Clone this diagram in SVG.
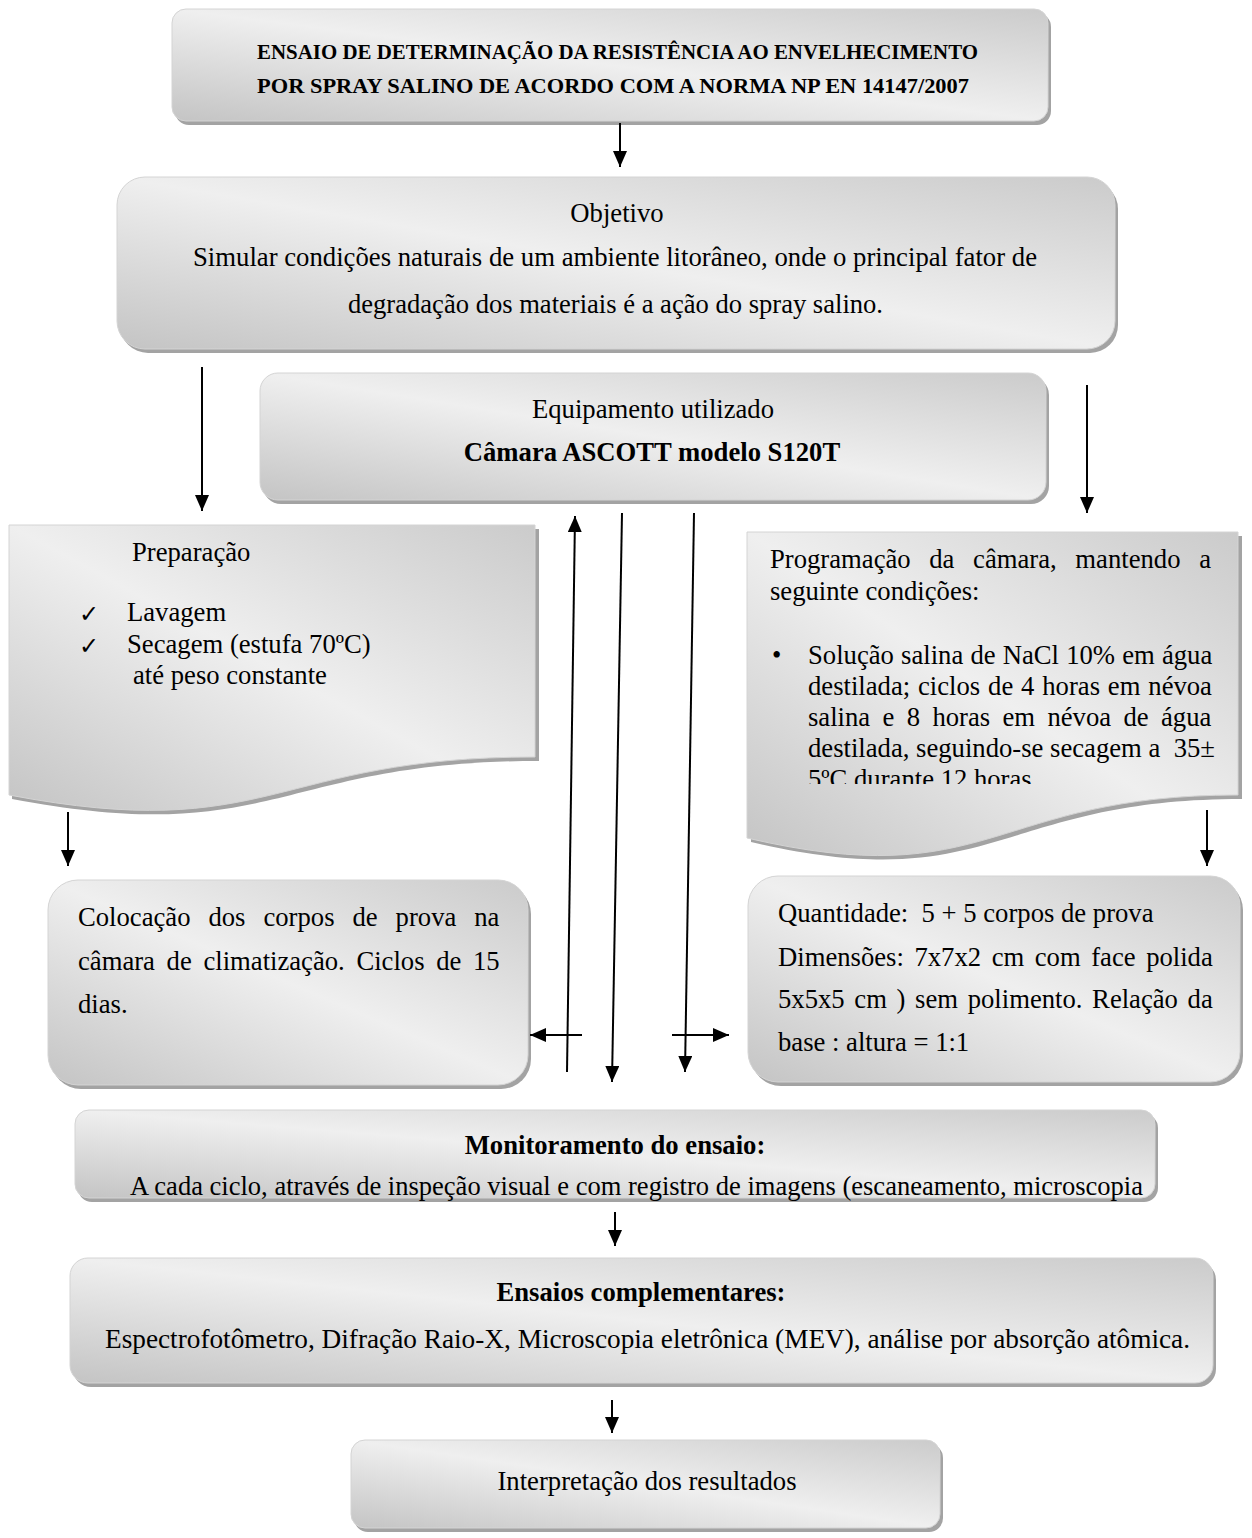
<svg xmlns="http://www.w3.org/2000/svg" width="1252" height="1538" viewBox="0 0 1252 1538">
<defs>
<linearGradient id="g" x1="0" y1="1" x2="1" y2="0">
<stop offset="0" stop-color="#c4c4c4"/>
<stop offset="0.5" stop-color="#efefef"/>
<stop offset="1" stop-color="#cbcbcb"/>
</linearGradient>
<marker id="ah" viewBox="0 0 16 14" refX="16" refY="7" markerWidth="8" markerHeight="7" orient="auto" markerUnits="strokeWidth">
<path d="M0,0 L16,7 L0,14 Z" fill="#000"/>
</marker>
<clipPath id="clipProg"><rect x="740" y="520" width="510" height="264"/></clipPath>
</defs>
<style>
.box{fill:url(#g);stroke:#d4d4d4;stroke-width:1}
.sh{fill:#a3a3a3}
.t{font-family:"Liberation Serif","Times New Roman",serif;font-size:26.67px;fill:#000}
.b{font-weight:bold}
.ttl{font-family:"Liberation Serif","Times New Roman",serif;font-size:20.5px;font-weight:bold;fill:#000}
.c{text-anchor:middle}
.ck{font-family:"DejaVu Sans",sans-serif;font-size:24px;fill:#000}
.ln{stroke:#000;stroke-width:2;fill:none;marker-end:url(#ah)}
</style>
<rect width="1252" height="1538" fill="#fff"/>

<g id="title">
<rect class="sh" x="175" y="13" width="876" height="112" rx="14"/>
<rect class="box" x="172" y="9" width="876" height="112" rx="14"/>
<text class="ttl" x="257" y="59" textLength="721" lengthAdjust="spacingAndGlyphs">ENSAIO DE DETERMINAÇÃO DA RESISTÊNCIA AO ENVELHECIMENTO</text>
<text class="ttl" x="257" y="93" textLength="712" lengthAdjust="spacingAndGlyphs">POR SPRAY SALINO DE ACORDO COM A NORMA NP EN 14147/2007</text>
</g>

<g id="objetivo">
<rect class="sh" x="120" y="181" width="998" height="172" rx="28"/>
<rect class="box" x="117" y="177" width="998" height="172" rx="28"/>
<text class="t c" x="617" y="222">Objetivo</text>
<text class="t" x="193" y="266" textLength="844" lengthAdjust="spacingAndGlyphs">Simular condições naturais de um ambiente litorâneo, onde o principal fator de</text>
<text class="t" x="348" y="313" textLength="535" lengthAdjust="spacingAndGlyphs">degradação dos materiais é a ação do spray salino.</text>
</g>

<g id="equipamento">
<rect class="sh" x="263" y="377" width="786" height="127" rx="18"/>
<rect class="box" x="260" y="373" width="786" height="127" rx="18"/>
<text class="t c" x="653" y="418">Equipamento utilizado</text>
<text class="t b c" x="652" y="461">Câmara ASCOTT modelo S120T</text>
</g>

<g id="preparacao">
<path class="sh" d="M12,529 H539 V761 C276,761 276,849 12,799 Z"/>
<path class="box" d="M9,525 H535 V757 C272,757 272,845 9,795 Z"/>
<text class="t" x="132" y="561">Preparação</text>
<text class="ck" x="79" y="622">✓</text>
<text class="ck" x="79" y="654">✓</text>
<text class="t" x="127" y="621">Lavagem</text>
<text class="t" x="127" y="653">Secagem (estufa 70ºC)</text>
<text class="t" x="133" y="684">até peso constante</text>
</g>

<g id="programacao">
<path class="sh" d="M751,536 H1242 V799 C995,799 995,899 751,842 Z"/>
<path class="box" d="M747,532 H1238 V795 C991,795 991,895 747,838 Z"/>
<text class="t" x="770" y="568" word-spacing="12">Programação da câmara, mantendo a</text>
<text class="t" x="770" y="600">seguinte condições:</text>
<text class="t" x="772" y="664">•</text>
<g clip-path="url(#clipProg)">
<text class="t" x="808" y="664" word-spacing="0.5">Solução salina de NaCl 10% em água</text>
<text class="t" x="808" y="695" word-spacing="1.2">destilada; ciclos de 4 horas em névoa</text>
<text class="t" x="808" y="726" word-spacing="5.7">salina e 8 horas em névoa de água</text>
<text class="t" x="808" y="757" xml:space="preserve">destilada, seguindo-se secagem a  35±</text>
<text class="t" x="808" y="788">5ºC durante 12 horas.</text>
</g>
</g>

<g id="colocacao">
<rect class="sh" x="51" y="884" width="480" height="205" rx="30"/>
<rect class="box" x="48" y="880" width="480" height="205" rx="30"/>
<text class="t" x="78" y="926" word-spacing="11.3">Colocação dos corpos de prova na</text>
<text class="t" x="78" y="970" word-spacing="5">câmara de climatização. Ciclos de 15</text>
<text class="t" x="78" y="1013">dias.</text>
</g>

<g id="quantidade">
<rect class="sh" x="751" y="880" width="492" height="206" rx="30"/>
<rect class="box" x="748" y="876" width="492" height="206" rx="30"/>
<text class="t" x="778" y="922" xml:space="preserve">Quantidade:  5 + 5 corpos de prova</text>
<text class="t" x="778" y="966" word-spacing="3.9">Dimensões: 7x7x2 cm com face polida</text>
<text class="t" x="778" y="1008" word-spacing="3">5x5x5 cm ) sem polimento. Relação da</text>
<text class="t" x="778" y="1051">base : altura = 1:1</text>
</g>

<g id="monitoramento">
<rect class="sh" x="78" y="1114" width="1080" height="88" rx="14"/>
<rect class="box" x="75" y="1110" width="1080" height="88" rx="14"/>
<text class="t b c" x="615" y="1154">Monitoramento do ensaio:</text>
<text class="t" x="130" y="1195" textLength="1013" lengthAdjust="spacingAndGlyphs">A cada ciclo, através de inspeção visual e com registro de imagens (escaneamento, microscopia</text>
</g>

<g id="complementares">
<rect class="sh" x="73" y="1262" width="1143" height="125" rx="18"/>
<rect class="box" x="70" y="1258" width="1143" height="125" rx="18"/>
<text class="t b c" x="641" y="1301">Ensaios complementares:</text>
<text class="t" x="105" y="1348" textLength="1085" lengthAdjust="spacingAndGlyphs">Espectrofotômetro, Difração Raio-X, Microscopia eletrônica (MEV), análise por absorção atômica.</text>
</g>

<g id="interpretacao">
<rect class="sh" x="354" y="1444" width="589" height="88" rx="14"/>
<rect class="box" x="351" y="1440" width="589" height="88" rx="14"/>
<text class="t c" x="647" y="1490">Interpretação dos resultados</text>
</g>

<g id="connectors">
<line class="ln" x1="620" y1="123" x2="620" y2="167"/>
<line class="ln" x1="202" y1="367" x2="202" y2="511"/>
<line class="ln" x1="1087" y1="385" x2="1087" y2="513"/>
<line class="ln" x1="68" y1="812" x2="68" y2="866"/>
<line class="ln" x1="1207" y1="810" x2="1207" y2="866"/>
<line class="ln" x1="567" y1="1072" x2="575" y2="516"/>
<line class="ln" x1="622" y1="513" x2="612" y2="1082"/>
<line class="ln" x1="694" y1="513" x2="685" y2="1072"/>
<line class="ln" x1="582" y1="1035" x2="530" y2="1035"/>
<line class="ln" x1="672" y1="1035" x2="729" y2="1035"/>
<line class="ln" x1="615" y1="1212" x2="615" y2="1246"/>
<line class="ln" x1="612" y1="1400" x2="612" y2="1433"/>
</g>
</svg>
